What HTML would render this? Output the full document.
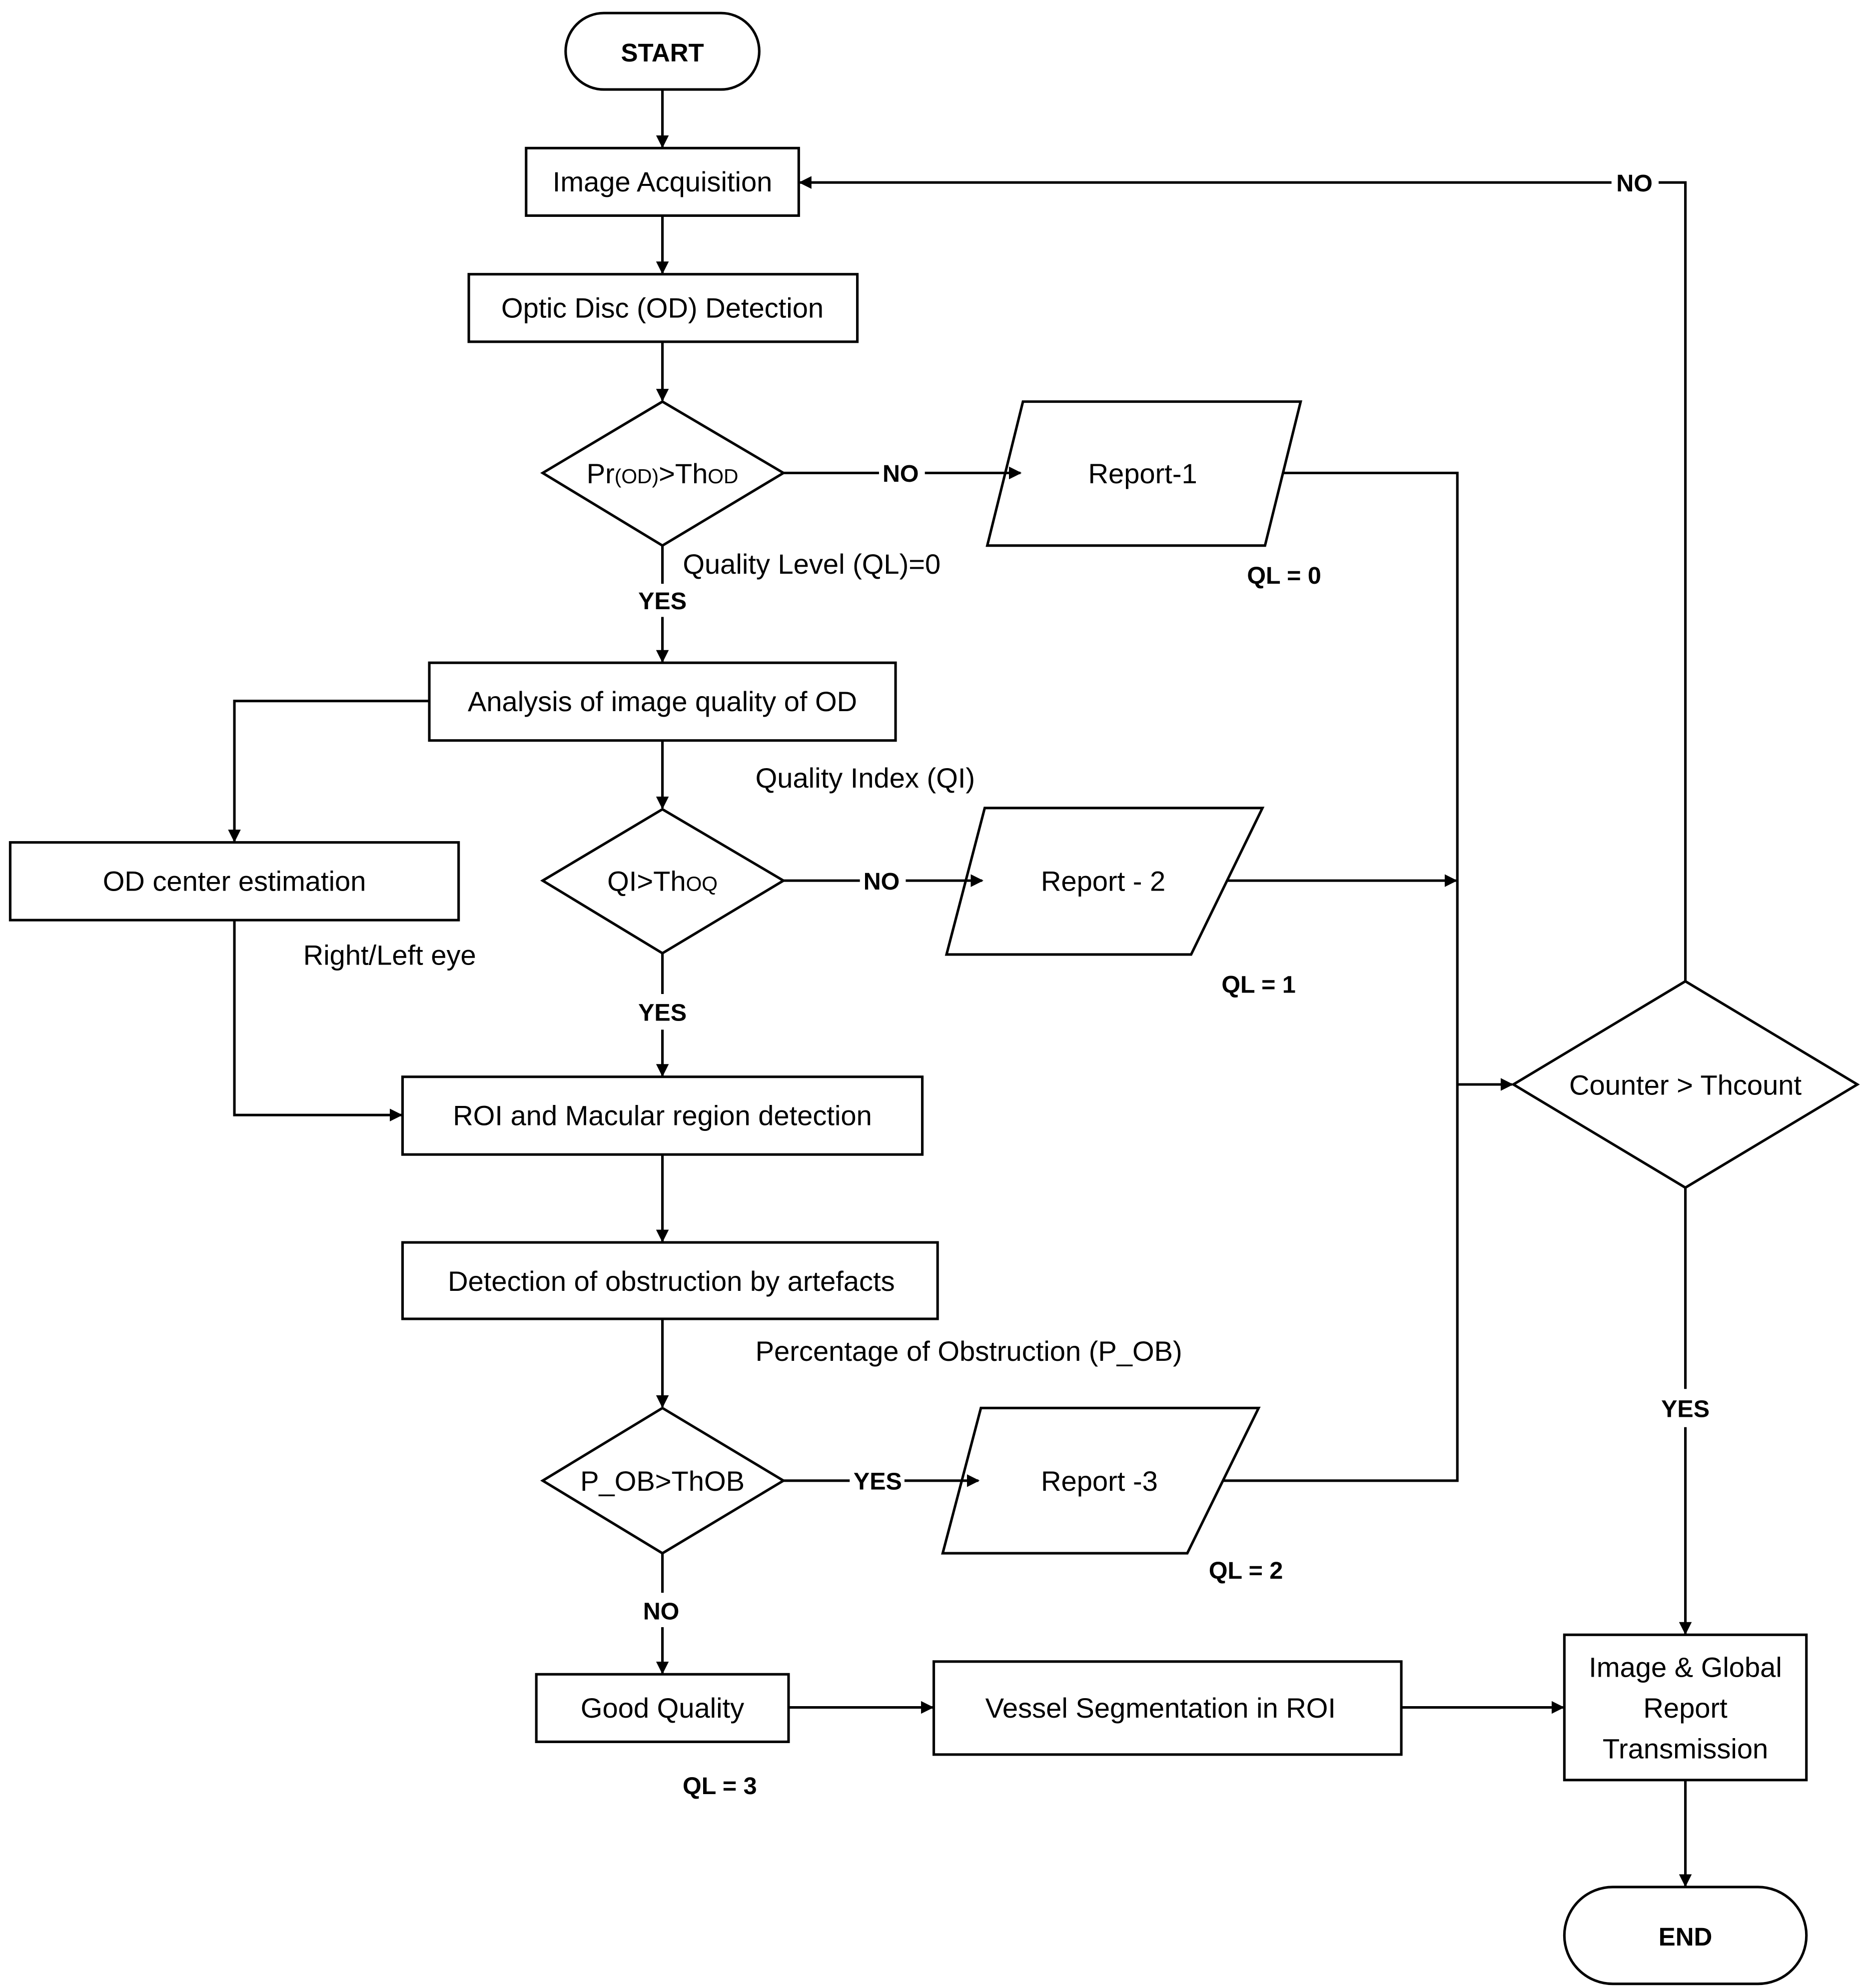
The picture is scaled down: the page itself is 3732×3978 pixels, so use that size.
<!DOCTYPE html>
<html><head><meta charset="utf-8"><style>html,body{margin:0;padding:0;background:#fff}svg{display:block}</style></head>
<body>
<svg width="3732" height="3978" viewBox="0 0 1464 1560" xmlns="http://www.w3.org/2000/svg" font-family="Liberation Sans, sans-serif">
<defs><marker id="a" markerWidth="10" markerHeight="10" refX="9" refY="5" orient="auto" markerUnits="userSpaceOnUse"><path d="M0,0 L10,5 L0,10 z" fill="#000"/></marker></defs>
<g fill="none" stroke="#000" stroke-width="2">
<rect x="444" y="10" width="152" height="60" rx="30"/>
<rect x="413" y="116" width="214" height="53"/>
<rect x="368" y="215" width="305" height="53"/>
<polygon points="426,371 520,315 615,371 520,428"/>
<polygon points="803,315 1021,315 993,428 775,428"/>
<rect x="337" y="520" width="366" height="61"/>
<rect x="8" y="661" width="352" height="61"/>
<polygon points="426,691 520,635 615,691 520,748"/>
<polygon points="773,634 991,634 935,749 743,749"/>
<rect x="316" y="845" width="408" height="61"/>
<rect x="316" y="975" width="420" height="60"/>
<polygon points="426,1162 520,1105 615,1162 520,1219"/>
<polygon points="770,1105 988,1105 932,1219 740,1219"/>
<rect x="421" y="1314" width="198" height="53"/>
<rect x="733" y="1304" width="367" height="73"/>
<rect x="1228" y="1283" width="190" height="114"/>
<rect x="1228" y="1481" width="190" height="76" rx="38"/>
<polygon points="1188,851 1323,770 1458,851 1323,932"/>
</g>
<g fill="none" stroke="#000" stroke-width="2" marker-end="url(#a)">
<line x1="520" y1="70" x2="520" y2="115"/>
<line x1="520" y1="169" x2="520" y2="214"/>
<line x1="520" y1="268" x2="520" y2="314"/>
<line x1="726" y1="371" x2="801" y2="371"/>
<line x1="520" y1="484" x2="520" y2="519"/>
<polyline points="337,550 184,550 184,660"/>
<polyline points="184,722 184,875 315,875"/>
<line x1="520" y1="581" x2="520" y2="634"/>
<line x1="711" y1="691" x2="771" y2="691"/>
<line x1="963" y1="691" x2="1143" y2="691"/>
<line x1="520" y1="808" x2="520" y2="844"/>
<line x1="520" y1="906" x2="520" y2="974"/>
<line x1="520" y1="1035" x2="520" y2="1104"/>
<line x1="710" y1="1162" x2="768" y2="1162"/>
<line x1="520" y1="1277" x2="520" y2="1313"/>
<line x1="619" y1="1340" x2="732" y2="1340"/>
<line x1="1100" y1="1340" x2="1227" y2="1340"/>
<line x1="1323" y1="1397" x2="1323" y2="1480"/>
<line x1="1144" y1="851" x2="1187" y2="851"/>
<line x1="1323" y1="1120" x2="1323" y2="1282"/>
<line x1="1265" y1="143" x2="628" y2="143"/>
</g>
<g fill="none" stroke="#000" stroke-width="2">
<line x1="615" y1="371" x2="690" y2="371"/>
<line x1="520" y1="428" x2="520" y2="458"/>
<polyline points="1007,371 1144,371 1144,1162 960,1162"/>
<line x1="615" y1="691" x2="675" y2="691"/>
<line x1="520" y1="748" x2="520" y2="780"/>
<line x1="615" y1="1162" x2="667" y2="1162"/>
<line x1="520" y1="1219" x2="520" y2="1250"/>
<line x1="1323" y1="932" x2="1323" y2="1090"/>
<polyline points="1302,143 1323,143 1323,770"/>
</g>
<g font-size="22" text-anchor="middle" fill="#000">
<text x="520" y="48" font-weight="bold" font-size="20">START</text>
<text x="520" y="150">Image Acquisition</text>
<text x="520" y="249">Optic Disc (OD) Detection</text>
<text x="520" y="379">Pr<tspan font-size="16">(OD)</tspan>&gt;Th<tspan font-size="16">OD</tspan></text>
<text x="897" y="379">Report-1</text>
<text x="520" y="558">Analysis of image quality of OD</text>
<text x="184" y="699">OD center estimation</text>
<text x="520" y="699">QI&gt;Th<tspan font-size="16">OQ</tspan></text>
<text x="866" y="699">Report - 2</text>
<text x="520" y="883">ROI and Macular region detection</text>
<text x="527" y="1013">Detection of obstruction by artefacts</text>
<text x="520" y="1170">P_OB&gt;ThOB</text>
<text x="863" y="1170">Report -3</text>
<text x="520" y="1348">Good Quality</text>
<text x="911" y="1348">Vessel Segmentation in ROI</text>
<text x="1323" y="1316">Image &amp; Global</text>
<text x="1323" y="1348">Report</text>
<text x="1323" y="1380">Transmission</text>
<text x="1323" y="859">Counter &gt; Thcount</text>
</g>
<g font-size="22" fill="#000">
<text x="536" y="450">Quality Level (QL)=0</text>
<text x="593" y="618">Quality Index (QI)</text>
<text x="238" y="757">Right/Left eye</text>
<text x="593" y="1068">Percentage of Obstruction (P_OB)</text>
</g>
<g font-size="19" font-weight="bold" text-anchor="middle" fill="#000">
<text x="707" y="378">NO</text>
<text x="520" y="478">YES</text>
<text x="1008" y="458">QL = 0</text>
<text x="692" y="698">NO</text>
<text x="988" y="779">QL = 1</text>
<text x="520" y="801">YES</text>
<text x="689" y="1169">YES</text>
<text x="978" y="1239">QL = 2</text>
<text x="519" y="1271">NO</text>
<text x="565" y="1408">QL = 3</text>
<text x="1323" y="1112">YES</text>
<text x="1283" y="150">NO</text>
<text x="1323" y="1527" font-size="20">END</text>
</g>
</svg>
</body></html>
